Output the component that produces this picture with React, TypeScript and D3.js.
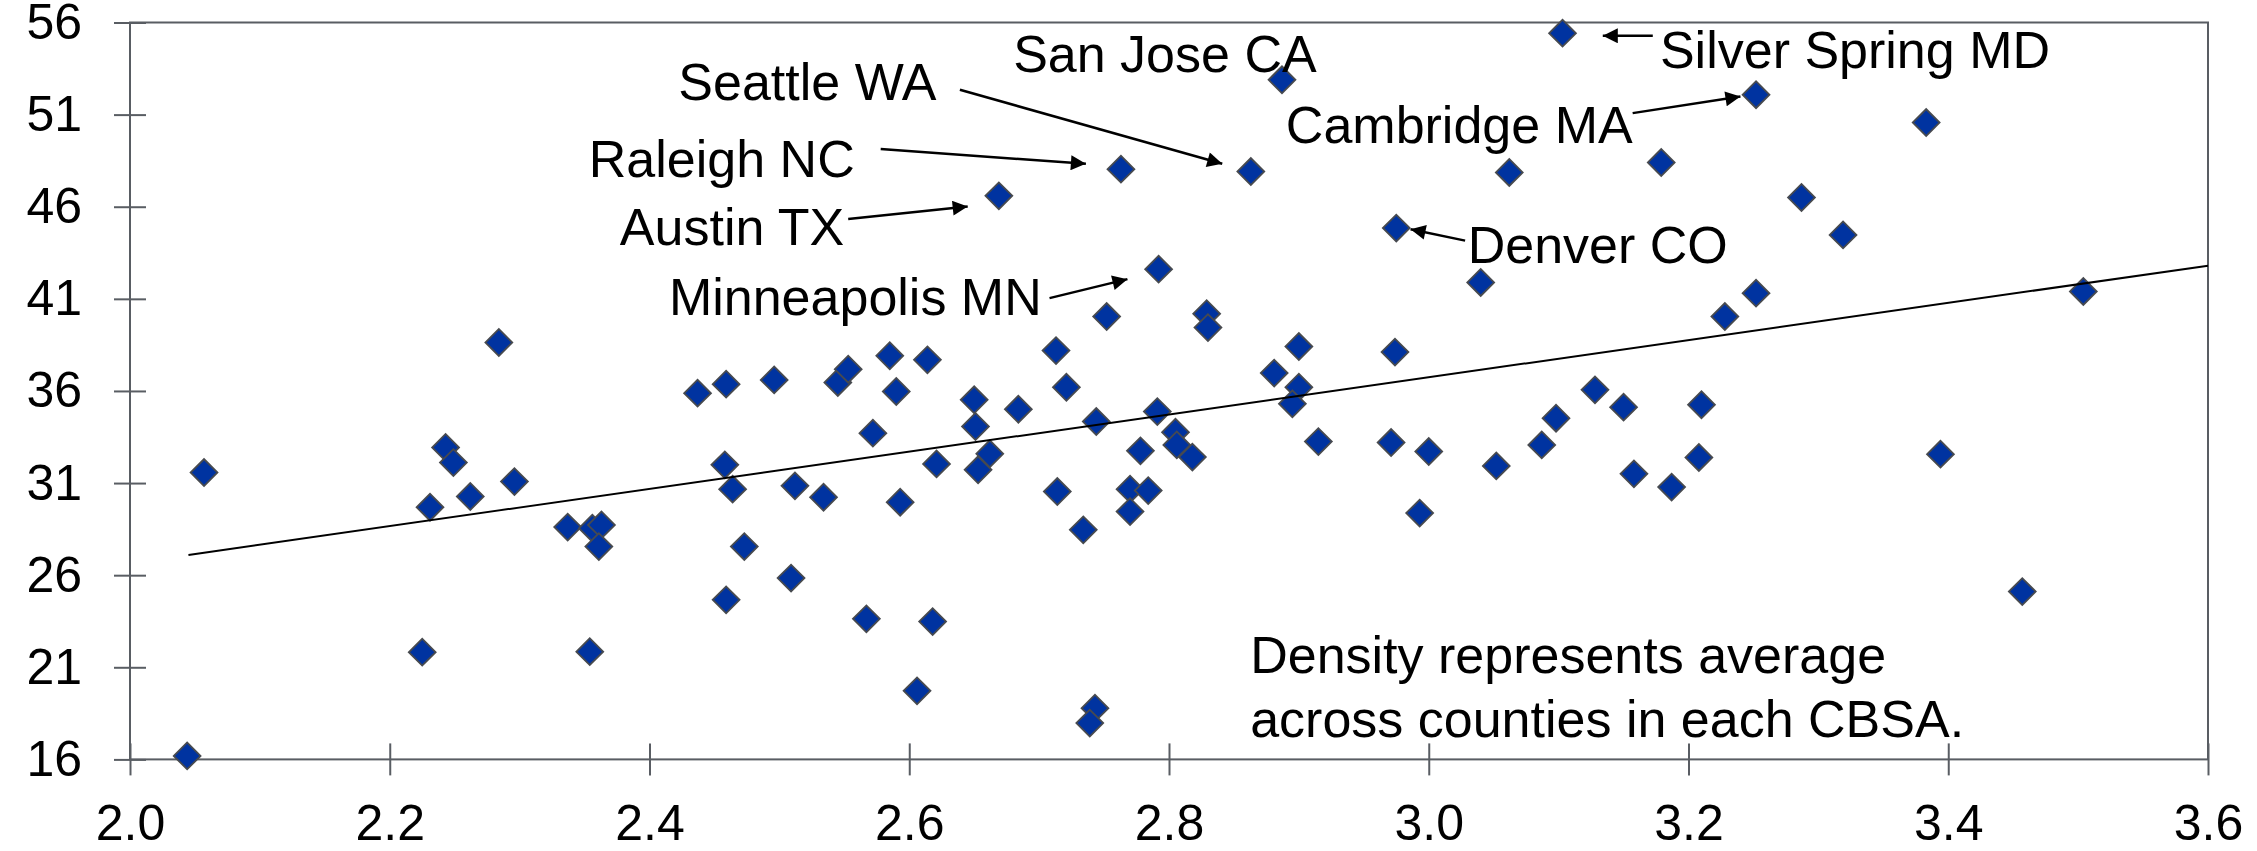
import React, { useRef, useEffect } from "react";
import * as d3 from "d3";

// scatter values: x = ratio, y = share
const xValues = [
  2.057, 2.044, 2.243, 2.249, 2.296, 2.262, 2.231, 2.225, 2.354, 2.337,
  2.356, 2.363, 2.361, 2.284, 2.437, 2.459, 2.458, 2.464, 2.473, 2.459,
  2.496, 2.512, 2.534, 2.509, 2.545, 2.553, 2.572, 2.585, 2.59, 2.593,
  2.567, 2.606, 2.614, 2.618, 2.621, 2.65, 2.651, 2.653, 2.662, 2.684,
  2.669, 2.713, 2.714, 2.721, 2.734, 2.744, 2.763, 2.752, 2.743, 2.739,
  2.778, 2.77, 2.784, 2.77, 2.792, 2.791, 2.805, 2.806, 2.818, 2.829,
  2.83, 2.863, 2.887, 2.881, 2.9, 2.9, 2.895, 2.915, 2.975, 2.974,
  2.971, 2.993, 3.0, 3.04, 3.052, 3.062, 3.087, 3.098, 3.103, 3.128,
  3.15, 3.158, 3.179, 3.187, 3.208, 3.21, 3.228, 3.252, 3.252, 3.287,
  3.319, 3.383, 3.394, 3.457, 3.504,
];
const yValues = [
  31.57, 16.19, 32.93, 32.11, 31.08, 30.27, 29.69, 21.82, 21.85, 28.61,
  28.55, 28.73, 27.55, 38.63, 35.88, 36.37, 31.99, 30.67, 27.55, 24.66,
  36.6, 30.85, 30.23, 25.84, 36.46, 37.18, 33.71, 37.91, 35.97, 29.96,
  23.63, 19.72, 37.69, 23.48, 32.04, 35.52, 34.07, 31.72, 32.59, 35.01,
  46.59, 38.19, 30.54, 36.2, 28.46, 34.34, 48.04, 40.04, 18.78, 17.97,
  32.75, 30.67, 30.59, 29.45, 42.61, 34.88, 33.76, 33.07, 32.41, 40.19,
  39.44, 47.91, 52.89, 36.97, 38.41, 36.2, 35.3, 33.25, 44.84, 38.11,
  33.2, 29.37, 32.71, 41.89, 31.93, 47.86, 33.07, 34.52, 55.42, 36.06,
  35.12, 31.5, 48.4, 30.78, 32.39, 35.25, 40.04, 52.08, 41.31, 46.5,
  44.47, 50.57, 32.57, 25.11, 41.4,
];

// fitted line end points
const trendX = [2.045, 3.6];
const trendY = [27.1, 42.8];

const xTickValues = [2.0, 2.2, 2.4, 2.6, 2.8, 3.0, 3.2, 3.4, 3.6];
const yTickValues = [16, 21, 26, 31, 36, 41, 46, 51, 56];

// callouts in data units: label anchor, then arrow tail and head
const calloutText = [
  "San Jose CA", "Seattle WA", "Raleigh NC", "Austin TX",
  "Minneapolis MN", "Cambridge MA", "Silver Spring MD", "Denver CO",
];
const calloutAnchor = ["start", "end", "end", "end", "end", "end", "start", "start"];
const calloutX = [2.68, 2.621, 2.558, 2.55, 2.702, 3.157, 3.178, 3.03];
const calloutY = [53.32, 51.8, 47.62, 43.93, 40.13, 49.47, 53.52, 42.94];
const arrowFrom = [null, [2.639, 52.35], [2.578, 49.13], [2.553, 45.33], [2.708, 41.04], [3.157, 51.08], [3.1725, 55.28], [3.028, 44.16]];
const arrowTo = [null, [2.841, 48.33], [2.736, 48.33], [2.645, 46.01], [2.768, 42.07], [3.24, 51.98], [3.134, 55.28], [2.986, 44.78]];

const noteLines = ["Density represents average", "across counties in each CBSA."];
const noteX = 2.8625;
const noteY = [20.68, 17.24];

const W = 2257;
const H = 851;
const margin = { left: 130, right: 49, top: 22.5, bottom: 91.6 };
const FONT = "'Liberation Sans', Arial, sans-serif";
const AXIS = "#595d63";

const App = () => {
  const ref: any = useRef();

  useEffect(() => {
    const svg = d3.select(ref.current);
    svg.selectAll("*").remove();

    const x = d3.scaleLinear().domain([2.0, 3.6]).range([margin.left, W - margin.right]);
    const y = d3.scaleLinear().domain([16, 56]).range([H - margin.bottom, margin.top]);
    const x0 = x.range()[0];
    const x1 = x.range()[1];
    const y0 = y.range()[0];
    const y1 = y.range()[1];

    // frame
    svg
      .append("rect")
      .attr("x", x0)
      .attr("y", y1)
      .attr("width", x1 - x0)
      .attr("height", y0 - y1)
      .attr("fill", "none")
      .attr("stroke", AXIS)
      .attr("stroke-width", 2);

    // y axis
    const yAxisPlot = svg
      .append("g")
      .attr("transform", "translate(" + x0 + ",0)")
      .call(d3.axisLeft(y).tickValues(yTickValues).tickSize(16).tickPadding(32));
    yAxisPlot.select(".domain").remove();
    yAxisPlot
      .selectAll(".tick line")
      .attr("x1", -16)
      .attr("x2", 16)
      .attr("stroke", AXIS)
      .attr("stroke-width", 2);
    yAxisPlot
      .selectAll(".tick text")
      .attr("font-family", FONT)
      .attr("font-size", 50)
      .attr("fill", "#000");

    // x axis
    const xAxisPlot = svg
      .append("g")
      .attr("transform", "translate(0," + y0 + ")")
      .call(
        d3
          .axisBottom(x)
          .tickValues(xTickValues)
          .tickSize(16)
          .tickPadding(29)
          .tickFormat(d3.format(".1f"))
      );
    xAxisPlot.select(".domain").remove();
    xAxisPlot
      .selectAll(".tick line")
      .attr("y1", -16)
      .attr("y2", 16)
      .attr("stroke", AXIS)
      .attr("stroke-width", 2);
    xAxisPlot
      .selectAll(".tick text")
      .attr("font-family", FONT)
      .attr("font-size", 50)
      .attr("fill", "#000");

    // points
    const pts = xValues.map((v, i) => ({ x: v, y: yValues[i] }));
    svg
      .append("g")
      .selectAll("path")
      .data(pts)
      .enter()
      .append("path")
      .attr("d", d3.symbol().type(d3.symbolSquare).size(360)())
      .attr("transform", (d: any) => "translate(" + x(d.x) + "," + y(d.y) + ") rotate(45)")
      .attr("fill", "#0033a0")
      .attr("stroke", "#474a4f")
      .attr("stroke-width", 1.8);

    // trend line
    const trend = trendX.map((v, i) => [v, trendY[i]] as [number, number]);
    svg
      .append("path")
      .datum(trend)
      .attr("d", d3.line().x((d: any) => x(d[0])).y((d: any) => y(d[1])) as any)
      .attr("fill", "none")
      .attr("stroke", "#000")
      .attr("stroke-width", 2);

    // arrows
    const defs = svg.append("defs");
    defs
      .append("marker")
      .attr("id", "head")
      .attr("viewBox", "0 0 10 10")
      .attr("refX", 10)
      .attr("refY", 5)
      .attr("markerUnits", "userSpaceOnUse")
      .attr("markerWidth", 18)
      .attr("markerHeight", 15)
      .attr("orient", "auto")
      .append("path")
      .attr("d", "M0,0L10,5L0,10Z")
      .attr("fill", "#000");

    calloutText.forEach((t, i) => {
      svg
        .append("text")
        .attr("x", x(calloutX[i]))
        .attr("y", y(calloutY[i]))
        .attr("text-anchor", calloutAnchor[i])
        .attr("font-family", FONT)
        .attr("font-size", 52)
        .attr("fill", "#000")
        .text(t);
      const a: any = arrowFrom[i];
      const b: any = arrowTo[i];
      if (a && b) {
        svg
          .append("line")
          .attr("x1", x(a[0]))
          .attr("y1", y(a[1]))
          .attr("x2", x(b[0]))
          .attr("y2", y(b[1]))
          .attr("stroke", "#000")
          .attr("stroke-width", 2.5)
          .attr("marker-end", "url(#head)");
      }
    });

    noteLines.forEach((t, i) => {
      svg
        .append("text")
        .attr("x", x(noteX))
        .attr("y", y(noteY[i]))
        .attr("font-family", FONT)
        .attr("font-size", 52)
        .attr("fill", "#000")
        .text(t);
    });
  }, []);

  return (
    <svg
      ref={ref}
      width={W}
      height={H}
      style={{ position: "absolute", left: 0, top: 0, background: "#fff" }}
    />
  );
};

export default App;
